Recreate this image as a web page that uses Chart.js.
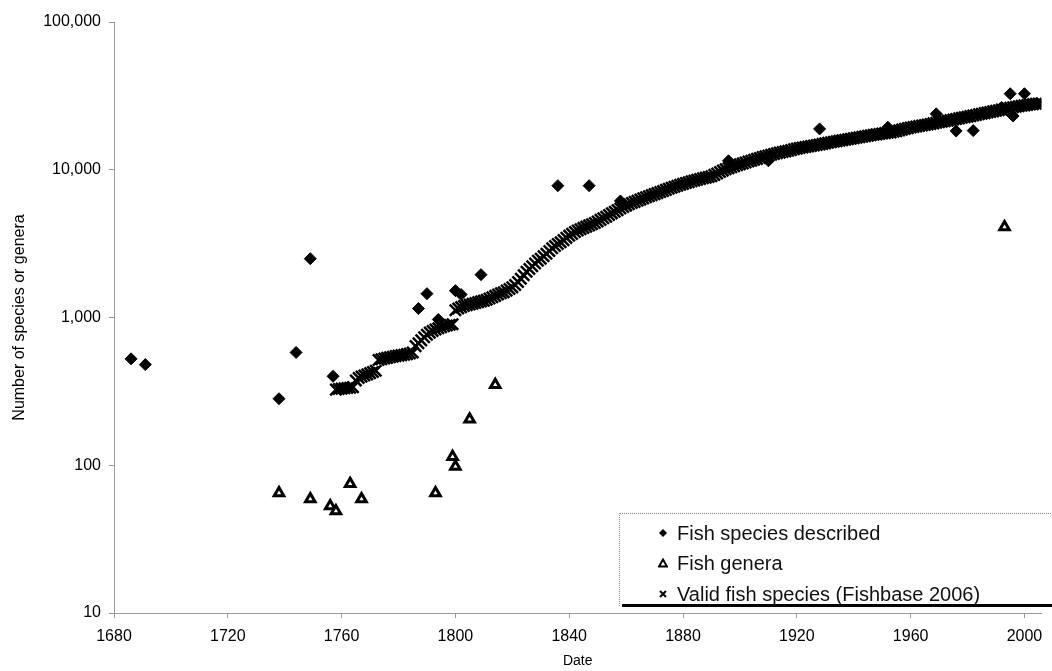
<!DOCTYPE html>
<html>
<head>
<meta charset="utf-8">
<title>Fish species and genera described over time</title>
<script src="https://cdn.jsdelivr.net/npm/chart.js@4.4.1/dist/chart.umd.min.js"></script>
<style>
  html, body { margin: 0; padding: 0; background: #fff; overflow: hidden; }
  #wrap { position: relative; width: 1052px; height: 671px; }
  #legend {
    position: absolute; left: 619px; top: 513px; width: 440px; height: 92px;
    border: 1px dotted #888; border-bottom: none;
    font-family: 'Liberation Sans', Arial, sans-serif; font-size: 20px; color: #111;
  }
  #legend .row { position: absolute; left: 0; height: 24px; line-height: 24px; white-space: nowrap; }
  #legend svg { position: absolute; left: 38px; top: 7px; }
  #legend span { position: absolute; left: 57px; }
  #legendRule { position: absolute; left: 622px; top: 604px; width: 430px; height: 3px; background: #000; }
</style>
</head>
<body>
<div id="wrap">
  <canvas id="fishChart" width="1052" height="671"></canvas>
  <div id="legend"></div>
  <div id="legendRule"></div>
</div>
<script>
// Series labels (legend order)
const seriesLabels = ['Fish species described', 'Fish genera', 'Valid fish species (Fishbase 2006)'];

// Fish species described (diamonds)
const describedYears  = [1686, 1691, 1738, 1744, 1749, 1757, 1787, 1790, 1794, 1800, 1802, 1809, 1836, 1847, 1858, 1896, 1910, 1928, 1952, 1969, 1976, 1982, 1992, 1995, 1996, 2000];
const describedCounts = [525, 480, 282, 580, 2500, 400, 1150, 1450, 970, 1520, 1430, 1950, 7800, 7800, 6150, 11500, 11500, 18900, 19400, 23900, 18300, 18400, 26400, 32700, 23100, 32700];

// Fish genera (open triangles)
const generaYears  = [1738, 1749, 1756, 1758, 1763, 1767, 1793, 1799, 1800, 1805, 1814, 1993];
const generaCounts = [65, 59, 53, 49, 75, 59, 65, 114, 98, 205, 350, 4100];

// Valid fish species, cumulative, one value per year from 1758
const validStartYear = 1758;
const validCounts = [
  325, 328, 330, 332, 333, 335, 338,                          // 1758-1764
  375, 390, 398, 405, 412, 420, 428, 436,                     // 1765-1772
  515, 522, 528, 533, 538, 543, 548, 552, 556, 560, 565, 570, 580, // 1773-1785
  640, 670, 700, 735, 765, 790,                               // 1786-1791
  810, 830, 845, 860, 872, 882, 892, 900,                     // 1792-1799
  1120, 1150, 1175, 1195, 1210, 1225, 1240, 1255, 1270, 1285, // 1800s
  1300, 1320, 1345, 1370, 1400, 1430, 1460, 1480, 1520, 1560, // 1810s
  1600, 1660, 1740, 1830, 1930, 2040, 2130, 2220, 2320, 2420, // 1820s
  2500, 2600, 2700, 2820, 2940, 3050, 3140, 3230, 3340, 3460, // 1830s
  3580, 3680, 3790, 3880, 3960, 4040, 4120, 4200, 4280, 4360, // 1840s
  4470, 4580, 4690, 4810, 4940, 5070, 5200, 5330, 5460, 5590, // 1850s
  5720, 5840, 5950, 6060, 6170, 6280, 6400, 6510, 6620, 6730, // 1860s
  6840, 6950, 7070, 7190, 7310, 7430, 7550, 7670, 7790, 7910, // 1870s
  8020, 8130, 8240, 8350, 8460, 8560, 8660, 8750, 8840, 8930, // 1880s
  9030, 9230, 9440, 9650, 9870, 10080, 10260, 10420, 10570, 10720, // 1890s
  10880, 11040, 11200, 11360, 11520, 11680, 11850, 12020, 12180, 12340, // 1900s
  12500, 12650, 12790, 12930, 13060, 13190, 13320, 13450, 13600, 13750, // 1910s
  13900, 14020, 14140, 14260, 14370, 14480, 14600, 14720, 14840, 14960, // 1920s
  15090, 15220, 15350, 15480, 15600, 15720, 15840, 15960, 16080, 16200, // 1930s
  16320, 16450, 16580, 16710, 16840, 16980, 17120, 17240, 17360, 17470, // 1940s
  17580, 17690, 17800, 17910, 18060, 18260, 18480, 18700, 18920, 19120, // 1950s
  19300, 19460, 19620, 19780, 19940, 20100, 20260, 20420, 20600, 20780, // 1960s
  20960, 21140, 21320, 21500, 21690, 21880, 22070, 22260, 22460, 22660, // 1970s
  22860, 23060, 23280, 23500, 23720, 23940, 24160, 24380, 24600, 24830, // 1980s
  25060, 25290, 25520, 25760, 26000, 26230, 26460, 26680, 26890, 27090, // 1990s
  27280, 27460, 27630, 27790, 27940, 28080, 28200             // 2000-2006
];

// Axis ticks
const xTickValues = [1680, 1720, 1760, 1800, 1840, 1880, 1920, 1960, 2000];
const yTickValues = [10, 100, 1000, 10000, 100000];

const fontFamily = "'Liberation Sans', Arial, sans-serif";

function buildLegend() {
  const legend = document.getElementById('legend');
  const markers = [
    '<svg width="10" height="10"><polygon points="5,1 9,5 5,9 1,5" fill="#000"/></svg>',
    '<svg width="10" height="10"><polygon points="5,1.5 9,8.5 1,8.5" fill="#fff" stroke="#000" stroke-width="2"/></svg>',
    '<svg width="10" height="10"><path d="M2,2 L8,8 M8,2 L2,8" stroke="#000" stroke-width="2"/></svg>'
  ];
  const rowTops = [7, 37, 68];
  seriesLabels.forEach((label, i) => {
    const row = document.createElement('div');
    row.className = 'row';
    row.style.top = rowTops[i] + 'px';
    row.innerHTML = markers[i] + '<span></span>';
    row.querySelector('span').textContent = label;
    legend.appendChild(row);
  });
}

function initializeChart() {
  const ctx = document.getElementById('fishChart').getContext('2d');

  const describedPoints = describedYears.map((yr, i) => ({ x: yr, y: describedCounts[i] }));
  const generaPoints = generaYears.map((yr, i) => ({ x: yr, y: generaCounts[i] }));
  const validPoints = validCounts.map((v, i) => ({ x: validStartYear + i, y: v }));

  new Chart(ctx, {
    type: 'scatter',
    data: {
      datasets: [
        {
          label: seriesLabels[0],
          data: describedPoints,
          pointStyle: 'rectRot',
          pointRadius: 6,
          backgroundColor: '#000',
          borderColor: '#000',
          borderWidth: 1
        },
        {
          label: seriesLabels[1],
          data: generaPoints,
          pointStyle: 'triangle',
          pointRadius: 5.5,
          backgroundColor: '#fff',
          borderColor: '#000',
          borderWidth: 3
        },
        {
          label: seriesLabels[2],
          data: validPoints,
          pointStyle: 'crossRot',
          pointRadius: 8,
          backgroundColor: '#000',
          borderColor: '#000',
          borderWidth: 2.5
        }
      ]
    },
    options: {
      responsive: false,
      animation: false,
      devicePixelRatio: 1,
      layout: { padding: { top: 22, right: 2, left: 0, bottom: 0 } },
      plugins: {
        legend: { display: false },
        tooltip: { enabled: false }
      },
      scales: {
        x: {
          type: 'linear',
          min: 1680,
          max: 2006,
          afterBuildTicks: s => { s.ticks = xTickValues.map(v => ({ value: v })); },
          afterFit: s => { s.height = 58; },
          ticks: {
            color: '#000',
            font: { family: fontFamily, size: 16 },
            padding: 9,
            maxRotation: 0,
            autoSkip: false,
            callback: v => String(v)
          },
          grid: { display: true, drawOnChartArea: false, drawTicks: true, tickLength: 5, color: '#999' },
          border: { display: true, color: '#999', dash: [2, 2] },
          title: {
            display: true,
            text: 'Date',
            color: '#000',
            font: { family: fontFamily, size: 14 },
            padding: { top: 4, bottom: 1 }
          }
        },
        y: {
          type: 'logarithmic',
          min: 10,
          max: 100000,
          afterBuildTicks: s => { s.ticks = yTickValues.map(v => ({ value: v })); },
          afterFit: s => { s.width = 114; },
          ticks: {
            color: '#000',
            font: { family: fontFamily, size: 16 },
            padding: 8,
            autoSkip: false,
            callback: v => Number(v).toLocaleString('en-US')
          },
          grid: { display: true, drawOnChartArea: false, drawTicks: true, tickLength: 5, color: '#999' },
          border: { display: true, color: '#999', dash: [2, 2] },
          title: {
            display: true,
            text: 'Number of species or genera',
            color: '#000',
            font: { family: fontFamily, size: 16 },
            padding: { top: 10, bottom: 0 }
          }
        }
      }
    }
  });
}

buildLegend();
initializeChart();
</script>
</body>
</html>
